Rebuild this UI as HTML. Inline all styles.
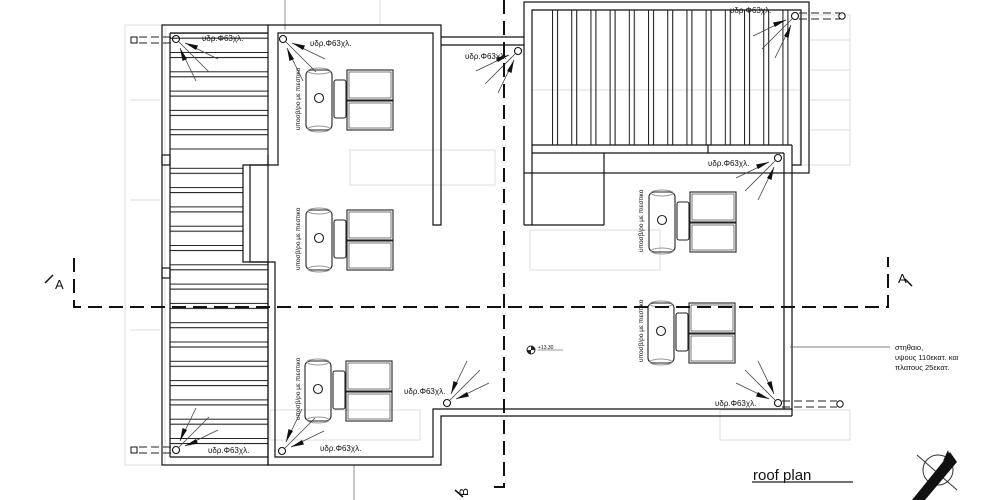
<!DOCTYPE html>
<html><head><meta charset="utf-8"><style>
html,body{margin:0;padding:0;background:#fff;}
svg{display:block;}
text{font-family:"Liberation Sans",sans-serif;fill:#111;}
</style></head><body>
<svg width="1000" height="500" viewBox="0 0 1000 500" xmlns="http://www.w3.org/2000/svg">
<defs>
<pattern id="hs" x="0" y="52" width="200" height="19.3" patternUnits="userSpaceOnUse">
<line x1="0" y1="0.5" x2="200" y2="0.5" stroke="#222" stroke-width="1.1"/>
<line x1="0" y1="5.5" x2="200" y2="5.5" stroke="#222" stroke-width="1.1"/>
</pattern>
<pattern id="vs" x="552" y="0" width="19.2" height="200" patternUnits="userSpaceOnUse">
<line x1="0.5" y1="0" x2="0.5" y2="200" stroke="#222" stroke-width="1.1"/>
<line x1="5.5" y1="0" x2="5.5" y2="200" stroke="#222" stroke-width="1.1"/>
</pattern>
<g id="dr">
<circle cx="0" cy="0" r="3.5" fill="none" stroke="#111" stroke-width="1.1"/>
<line x1="9" y1="4" x2="42" y2="20" stroke="#444" stroke-width="0.8"/>
<polygon points="9,4 20,11 22,6.5" fill="#111"/>
<line x1="3" y1="3" x2="33" y2="33" stroke="#444" stroke-width="0.8"/>
<line x1="4" y1="9" x2="20" y2="42" stroke="#444" stroke-width="0.8"/>
<polygon points="4,9 11,20 6.5,22" fill="#111"/>
</g>
<g id="unit" fill="none" stroke="#222" stroke-width="1.1">
<rect x="0" y="2" width="26" height="60" rx="5"/>
<ellipse cx="13" cy="3" rx="11" ry="3" stroke="#999"/>
<ellipse cx="13" cy="61" rx="11" ry="3" stroke="#999"/>
<circle cx="13" cy="30" r="4.5"/>
<rect x="28" y="12" width="12" height="38" rx="2"/>
<rect x="41" y="2" width="46" height="30"/>
<rect x="43" y="4" width="42" height="26" stroke-width="0.6"/>
<rect x="41" y="33" width="46" height="29"/>
<rect x="43" y="35" width="42" height="25" stroke-width="0.6"/>
</g>
</defs>

<!-- faint background -->
<g fill="none" stroke="#ddd" stroke-width="1">
<rect x="125" y="25" width="40" height="440"/>
<rect x="800" y="15" width="50" height="150"/>
<rect x="350" y="150" width="145" height="35"/>
<rect x="530" y="230" width="130" height="40"/>
<rect x="720" y="410" width="130" height="30"/>
<rect x="270" y="410" width="150" height="30"/>
<line x1="380" y1="0" x2="380" y2="25"/>
<line x1="530" y1="90" x2="800" y2="90"/>
<line x1="810" y1="40" x2="850" y2="40"/><line x1="810" y1="70" x2="850" y2="70"/><line x1="810" y1="100" x2="850" y2="100"/><line x1="810" y1="130" x2="850" y2="130"/>
<line x1="130" y1="100" x2="160" y2="100"/><line x1="130" y1="200" x2="160" y2="200"/><line x1="130" y1="330" x2="160" y2="330"/>
</g>
<line x1="285" y1="0" x2="285" y2="30" stroke="#777" stroke-width="0.8"/>
<line x1="354" y1="465" x2="354" y2="500" stroke="#777" stroke-width="0.8"/>

<!-- left wing -->
<rect x="170" y="33" width="98" height="120" fill="url(#hs)"/>
<rect x="170" y="160" width="73" height="102" fill="url(#hs)"/>
<rect x="170" y="262" width="98" height="195" fill="url(#hs)"/>
<g fill="none" stroke="#111" stroke-width="1.2">
<rect x="162" y="25" width="106" height="440"/>
<line x1="170" y1="33" x2="170" y2="457"/>
<line x1="170" y1="33" x2="268" y2="33"/>
<line x1="170" y1="457" x2="268" y2="457"/>
<rect x="162" y="155" width="8" height="10"/>
<rect x="162" y="268" width="8" height="10"/>
<polyline points="268,25 441,25 441,225 433,225 433,33 278,33 278,165 250,165 250,262 275,262 275,457 433,457 433,409 792,409"/>
<polyline points="268,155 268,165 243,165 243,262 268,262 268,465 441,465 441,416 792,416"/>
<line x1="441" y1="37" x2="524" y2="37"/>
<line x1="441" y1="45" x2="524" y2="45"/>
<rect x="524" y="2" width="285" height="171"/>
<polyline points="532,225 532,10 801,10 801,165 792,165"/>
<line x1="524" y1="173" x2="524" y2="225"/>
<line x1="524" y1="225" x2="604" y2="225"/>
<line x1="604" y1="153" x2="604" y2="225"/>
<line x1="532" y1="145" x2="792" y2="145"/>
<line x1="532" y1="153" x2="784" y2="153"/>
<polyline points="792,145 792,416"/>
<polyline points="784,153 784,409"/>
<line x1="708" y1="145" x2="708" y2="153"/>
</g>
<rect x="548" y="10" width="246" height="135" fill="url(#vs)"/>

<use href="#unit" x="306" y="68"/>
<use href="#unit" x="306" y="208"/>
<use href="#unit" x="305" y="359"/>
<use href="#unit" x="649" y="190"/>
<use href="#unit" x="648" y="301"/>
<g font-size="6.5">
<text transform="translate(300,130) rotate(-90)">υποσβ/ρο με πιεστικο</text>
<text transform="translate(300,270) rotate(-90)">υποσβ/ρο με πιεστικο</text>
<text transform="translate(300,420) rotate(-90)">υποσβ/ρο με πιεστικο</text>
<text transform="translate(643,252) rotate(-90)">υποσβ/ρο με πιεστικο</text>
<text transform="translate(643,362) rotate(-90)">υποσβ/ρο με πιεστικο</text>
</g>

<use href="#dr" transform="translate(176,39)"/>
<use href="#dr" transform="translate(283,39)"/>
<use href="#dr" transform="translate(518,51) scale(-1,1)"/>
<use href="#dr" transform="translate(795,16) scale(-1,1)"/>
<use href="#dr" transform="translate(778,158) scale(-1,1)"/>
<use href="#dr" transform="translate(778,403) scale(-1,-1)"/>
<use href="#dr" transform="translate(447,403) scale(1,-1)"/>
<use href="#dr" transform="translate(282,451) scale(1,-1)"/>
<use href="#dr" transform="translate(176,450) scale(1,-1)"/>
<g font-size="8">
<text x="202" y="41">υδρ.Φ63χλ.</text>
<text x="310" y="46">υδρ.Φ63χλ.</text>
<text x="465" y="59">υδρ.Φ63χλ.</text>
<text x="730" y="13">υδρ.Φ63χλ.</text>
<text x="708" y="166">υδρ.Φ63χλ.</text>
<text x="715" y="406">υδρ.Φ63χλ.</text>
<text x="404" y="394">υδρ.Φ63χλ.</text>
<text x="320" y="451">υδρ.Φ63χλ.</text>
<text x="208" y="453">υδρ.Φ63χλ.</text>
</g>

<g stroke="#222" stroke-width="1" stroke-dasharray="8,4" fill="none">
<line x1="139" y1="37" x2="172" y2="37"/><line x1="139" y1="43" x2="172" y2="43"/>
<line x1="799" y1="13" x2="840" y2="13"/><line x1="799" y1="19" x2="840" y2="19"/>
<line x1="782" y1="401" x2="837" y2="401"/><line x1="782" y1="407" x2="837" y2="407"/>
<line x1="139" y1="447" x2="172" y2="447"/><line x1="139" y1="453" x2="172" y2="453"/>
</g>
<g fill="none" stroke="#111" stroke-width="1">
<rect x="131" y="37" width="6" height="6"/>
<circle cx="842" cy="16" r="3.2"/>
<circle cx="840" cy="404" r="3.2"/>
<rect x="131" y="447" width="6" height="6"/>
</g>

<g stroke="#111" stroke-width="2" fill="none" stroke-dasharray="14,7">
<polyline points="74,258 74,307 888,307 888,257"/>
<polyline points="504,0 504,487 490,487"/>
</g>
<g stroke="#111" stroke-width="1.5" fill="none">
<line x1="45" y1="283" x2="53" y2="275"/>
<line x1="912" y1="286" x2="905" y2="279"/>
<line x1="455" y1="490" x2="463" y2="497"/>
</g>
<text x="55" y="289" font-size="13">A</text>
<text x="898" y="283" font-size="13">A</text>
<text transform="translate(468,492) rotate(-90)" font-size="12" text-anchor="middle">B</text>

<circle cx="531" cy="350" r="4" fill="none" stroke="#222"/>
<path d="M531,350 L531,346 A4,4 0 0 1 535,350 Z M531,350 L531,354 A4,4 0 0 1 527,350 Z" fill="#222"/>
<text x="538" y="349" font-size="5">+13.30</text>
<line x1="538" y1="350" x2="563" y2="350" stroke="#333" stroke-width="0.6"/>

<line x1="790" y1="347" x2="890" y2="347" stroke="#555" stroke-width="0.8"/>
<g font-size="7.5">
<text x="895" y="350">στηθαιο,</text>
<text x="895" y="360">υψους 110εκατ. και</text>
<text x="895" y="370">πλατους 25εκατ.</text>
</g>

<text x="753" y="480" font-size="15">roof plan</text>
<line x1="752" y1="482" x2="853" y2="482" stroke="#222" stroke-width="1.2"/>

<circle cx="938" cy="470" r="15" fill="none" stroke="#333" stroke-width="1"/>
<line x1="917" y1="455" x2="957" y2="490" stroke="#333" stroke-width="1"/>
<polygon points="912,500 925,500 957,462 950,452 946,458" fill="#111"/>
<polygon points="943,461 948,450 950,457" fill="#111"/>
</svg>
</body></html>
